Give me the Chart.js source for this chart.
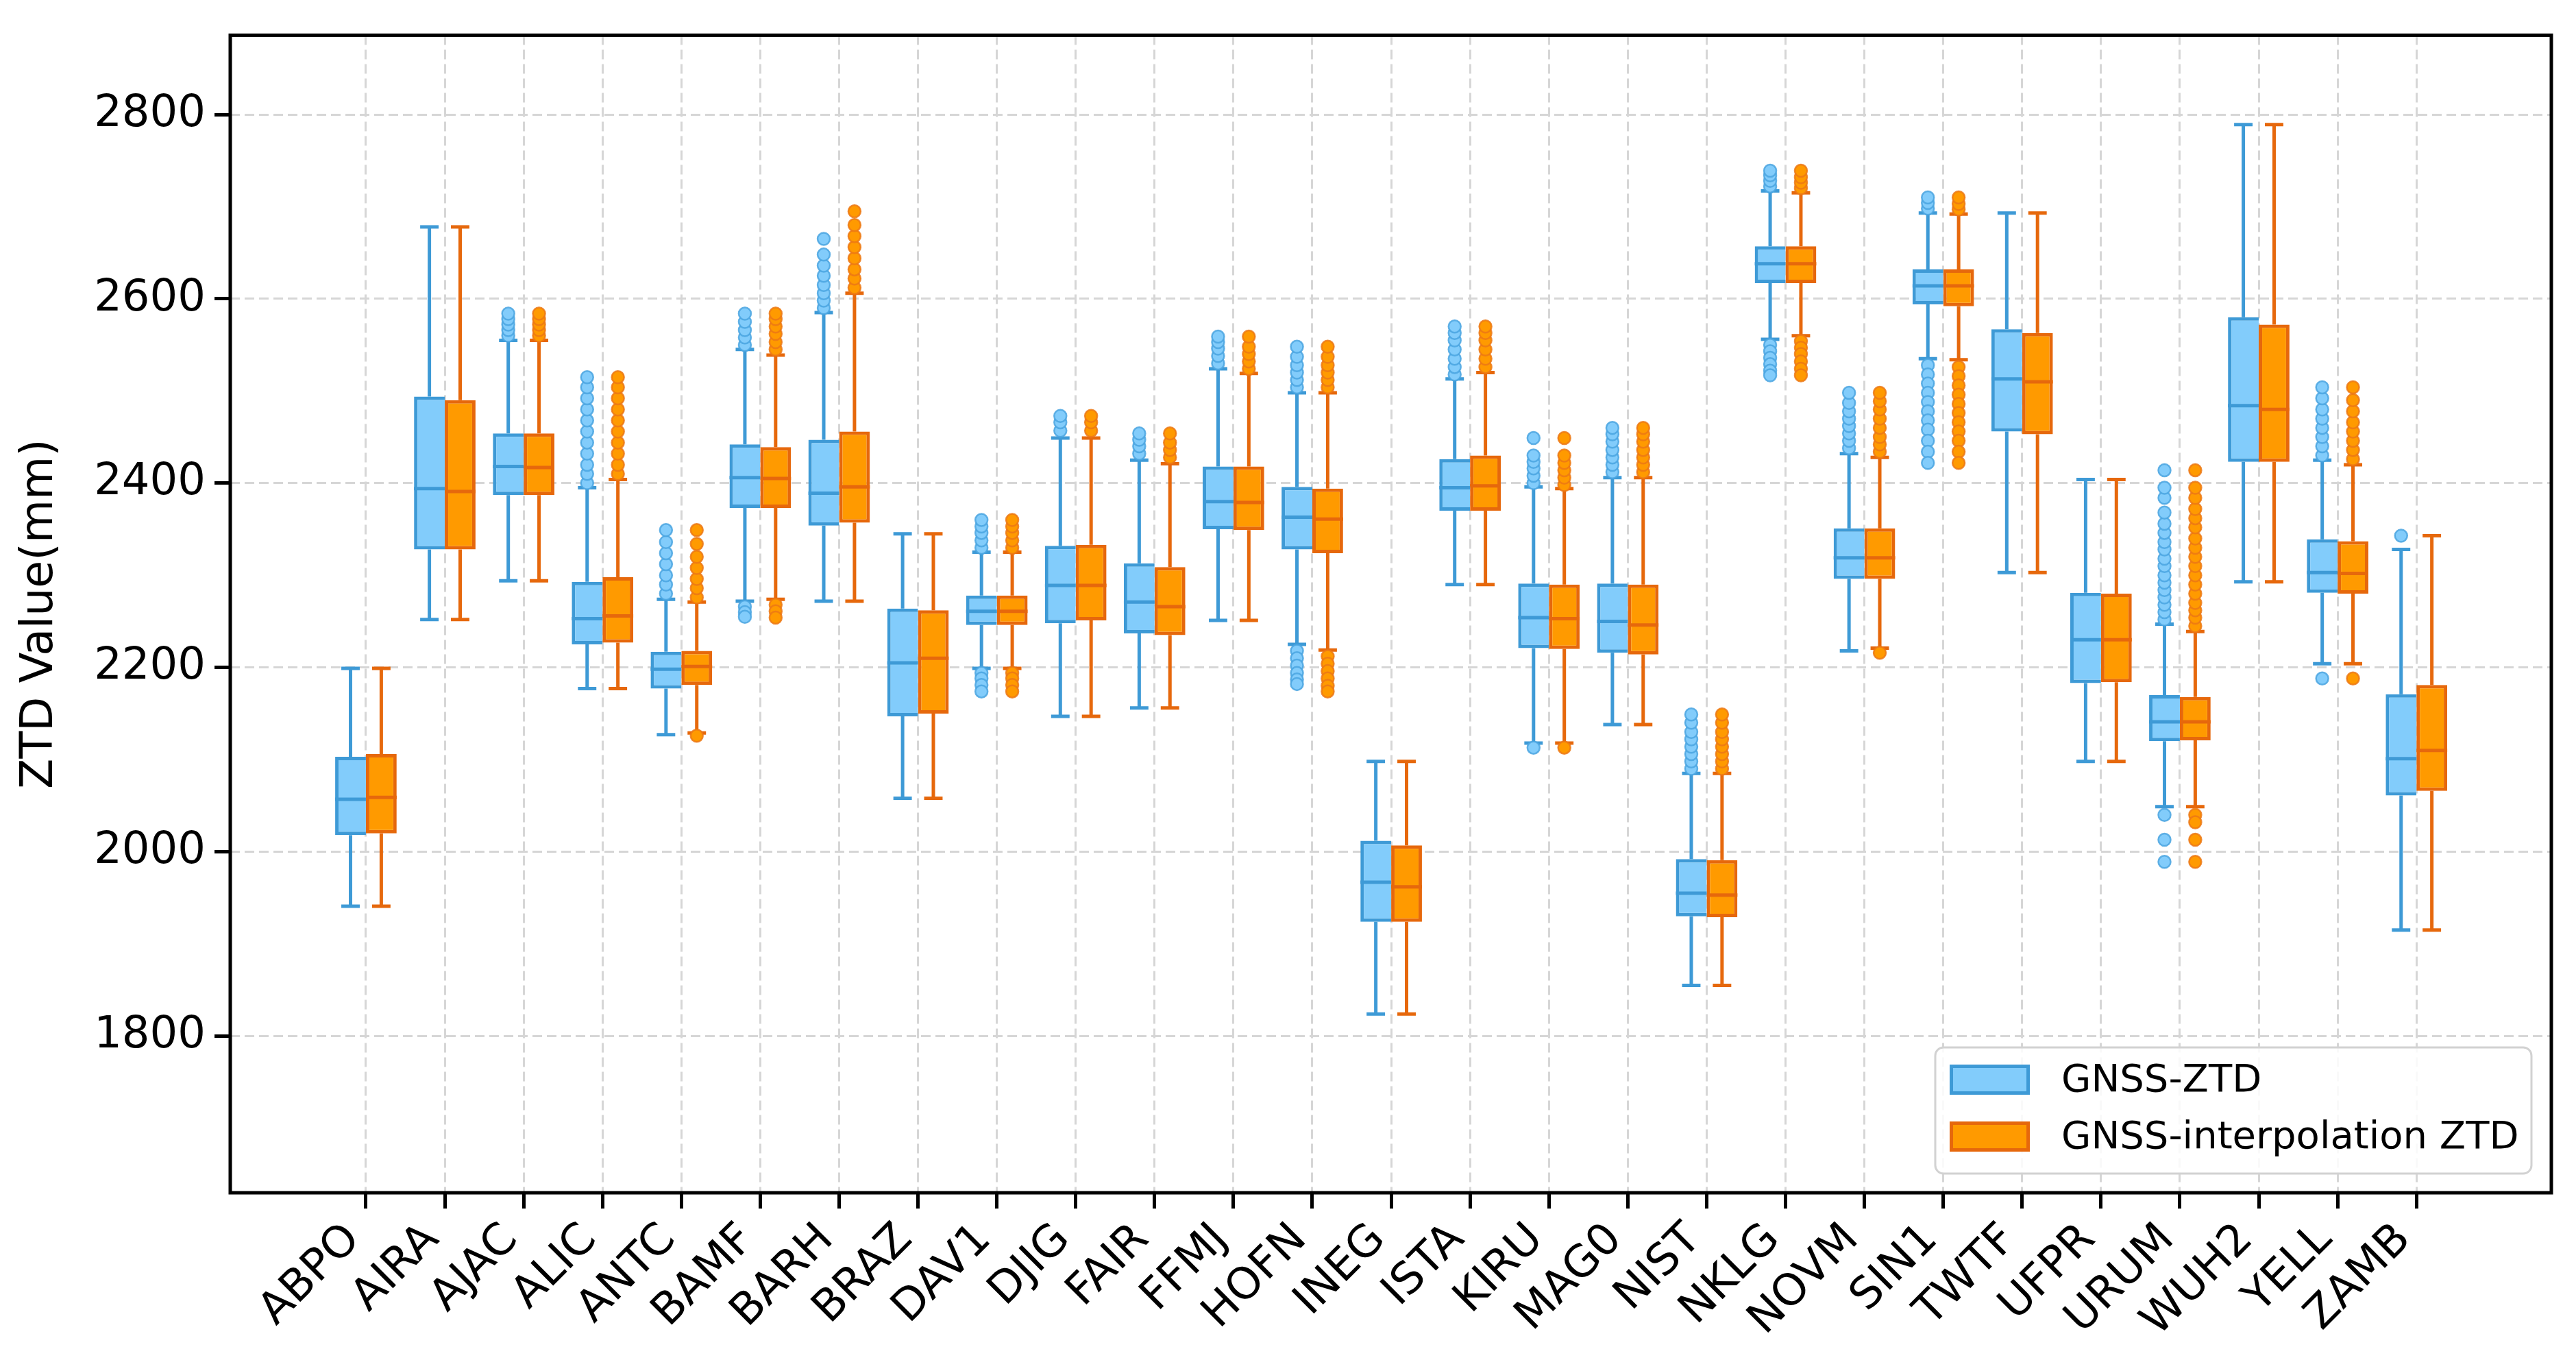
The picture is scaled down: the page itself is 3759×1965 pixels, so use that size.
<!DOCTYPE html>
<html>
<head>
<meta charset="utf-8">
<script src="https://cdn.jsdelivr.net/npm/chart.js@4.4.1/dist/chart.umd.min.js"></script>
<style>
  html, body { margin: 0; padding: 0; background: #fff; }
  #wrap { width: 3759px; height: 1965px; }
</style>
</head>
<body>
<div id="wrap"><canvas id="ztdChart" width="3759" height="1965"></canvas></div>
<script>
const stations = ["ABPO", "AIRA", "AJAC", "ALIC", "ANTC", "BAMF", "BARH", "BRAZ", "DAV1", "DJIG", "FAIR", "FFMJ", "HOFN", "INEG",
  "ISTA", "KIRU", "MAG0", "NIST", "NKLG", "NOVM", "SIN1", "TWTF", "UFPR", "URUM", "WUH2", "YELL", "ZAMB"];

// GNSS-ZTD box statistics (mm)
const gnssLow  = [1941, 2252, 2294, 2177, 2127, 2272, 2272, 2058, 2199, 2147, 2156, 2251, 2225, 1824, 2290, 2118, 2138, 1855, 2556, 2218, 2535, 2303, 2098, 2049, 2293, 2204, 1915];
const gnssQ1   = [2018, 2328, 2387, 2225, 2177, 2373, 2354, 2147, 2246, 2248, 2237, 2350, 2328, 1924, 2370, 2221, 2216, 1930, 2617, 2296, 2594, 2456, 2183, 2120, 2423, 2281, 2061];
const gnssMed  = [2057, 2394, 2418, 2253, 2198, 2406, 2389, 2205, 2261, 2289, 2271, 2380, 2363, 1967, 2395, 2254, 2250, 1955, 2638, 2319, 2614, 2513, 2230, 2141, 2484, 2303, 2101];
const gnssQ3   = [2103, 2494, 2454, 2293, 2217, 2442, 2447, 2264, 2278, 2332, 2313, 2418, 2396, 2012, 2426, 2291, 2291, 1992, 2657, 2351, 2632, 2567, 2281, 2170, 2580, 2339, 2171];
const gnssHigh = [2199, 2678, 2555, 2395, 2274, 2545, 2585, 2345, 2325, 2449, 2425, 2524, 2498, 2098, 2513, 2396, 2406, 2085, 2717, 2432, 2693, 2693, 2404, 2247, 2789, 2425, 2328];

// GNSS-interpolation ZTD box statistics (mm)
const interpLow  = [1941, 2252, 2294, 2177, 2129, 2274, 2272, 2058, 2199, 2147, 2156, 2251, 2219, 1824, 2290, 2118, 2138, 1855, 2560, 2221, 2534, 2303, 2098, 2049, 2293, 2204, 1915];
const interpQ1   = [2020, 2328, 2387, 2227, 2181, 2373, 2357, 2150, 2246, 2251, 2235, 2349, 2324, 1924, 2370, 2220, 2214, 1929, 2617, 2296, 2592, 2453, 2184, 2121, 2423, 2280, 2066];
const interpMed  = [2059, 2391, 2417, 2256, 2201, 2405, 2396, 2210, 2261, 2289, 2266, 2379, 2361, 1962, 2397, 2253, 2246, 1953, 2638, 2319, 2614, 2510, 2230, 2141, 2480, 2302, 2110];
const interpQ3   = [2106, 2490, 2454, 2298, 2218, 2439, 2456, 2262, 2278, 2333, 2309, 2418, 2394, 2007, 2430, 2290, 2290, 1991, 2657, 2351, 2632, 2563, 2280, 2168, 2572, 2337, 2181];
const interpHigh = [2199, 2678, 2555, 2404, 2271, 2539, 2606, 2345, 2325, 2449, 2421, 2519, 2498, 2098, 2520, 2394, 2406, 2085, 2715, 2428, 2692, 2693, 2404, 2239, 2789, 2420, 2343];

// outliers per station
const gnssOutliers = [
  [], [], [2560, 2566, 2572, 2578, 2584],
  [2400, 2410, 2420, 2432, 2444, 2456, 2468, 2480, 2492, 2504, 2515],
  [2280, 2290, 2300, 2312, 2324, 2336, 2349],
  [2550, 2558, 2566, 2575, 2584, 2266, 2260, 2255],
  [2590, 2598, 2606, 2615, 2625, 2636, 2648, 2665],
  [],
  [2330, 2338, 2346, 2353, 2360, 2194, 2188, 2181, 2174],
  [2457, 2466, 2473],
  [2432, 2440, 2447, 2454],
  [2530, 2538, 2546, 2553, 2559],
  [2504, 2512, 2520, 2528, 2537, 2548, 2218, 2210, 2202, 2194, 2187, 2182],
  [],
  [2518, 2526, 2535, 2545, 2555, 2563, 2570],
  [2400, 2408, 2416, 2423, 2430, 2449, 2113],
  [2412, 2420, 2428, 2436, 2445, 2453, 2460],
  [2090, 2098, 2106, 2114, 2122, 2130, 2140, 2149],
  [2722, 2728, 2734, 2739, 2550, 2543, 2536, 2529, 2522, 2517],
  [2438, 2446, 2454, 2462, 2470, 2478, 2487, 2498],
  [2698, 2704, 2710, 2528, 2518, 2508, 2498, 2488, 2478, 2468, 2458, 2446, 2434, 2422],
  [], [],
  [2252, 2260, 2268, 2276, 2284, 2292, 2300, 2310, 2318, 2328, 2336, 2346, 2356, 2368, 2384, 2395, 2414, 2040, 2013, 1989],
  [],
  [2430, 2440, 2450, 2460, 2470, 2480, 2492, 2504, 2188],
  [2343]
];
const interpOutliers = [
  [], [], [2560, 2566, 2572, 2578, 2584],
  [2410, 2420, 2432, 2444, 2456, 2468, 2480, 2492, 2504, 2515],
  [2276, 2286, 2296, 2308, 2320, 2334, 2349, 2126],
  [2545, 2553, 2562, 2570, 2578, 2584, 2268, 2261, 2254],
  [2612, 2622, 2632, 2644, 2656, 2668, 2680, 2695],
  [],
  [2330, 2338, 2346, 2353, 2360, 2194, 2188, 2181, 2174],
  [2457, 2466, 2473],
  [2428, 2436, 2444, 2454],
  [2524, 2532, 2540, 2548, 2559],
  [2504, 2512, 2520, 2528, 2537, 2548, 2212, 2204, 2196, 2188, 2180, 2174],
  [],
  [2526, 2535, 2545, 2555, 2563, 2570],
  [2398, 2406, 2414, 2422, 2430, 2449, 2113],
  [2412, 2420, 2428, 2436, 2445, 2453, 2460],
  [2090, 2098, 2106, 2114, 2122, 2130, 2140, 2149],
  [2720, 2726, 2732, 2739, 2554, 2547, 2540, 2532, 2524, 2517],
  [2434, 2442, 2450, 2460, 2470, 2480, 2489, 2498, 2216],
  [2697, 2703, 2710, 2526, 2516, 2506, 2496, 2486, 2476, 2466, 2456, 2446, 2434, 2422],
  [], [],
  [2245, 2254, 2262, 2270, 2280, 2290, 2300, 2310, 2320, 2330, 2340, 2352, 2362, 2372, 2384, 2395, 2414, 2040, 2032, 2013, 1989],
  [],
  [2426, 2436, 2446, 2456, 2466, 2478, 2490, 2504, 2188],
  []
];

const yTicks = [1800, 2000, 2200, 2400, 2600, 2800];

const FONT = "'DejaVu Sans', sans-serif";
const groupWidth = 0.78; // share of one station slot taken by the two boxes

const series = [
  { label: "GNSS-ZTD", low: gnssLow, q1: gnssQ1, med: gnssMed, q3: gnssQ3, high: gnssHigh, out: gnssOutliers,
    fill: "#82CCFB", edge: "#3E9AD6", dot: "rgba(74,165,224,0.85)", side: -1 },
  { label: "GNSS-interpolation ZTD", low: interpLow, q1: interpQ1, med: interpMed, q3: interpQ3, high: interpHigh, out: interpOutliers,
    fill: "#FF9A00", edge: "#E6680C", dot: "rgba(236,120,20,0.85)", side: 1 }
];

// whiskers, caps and medians drawn around the floating bars
const boxParts = {
  id: "boxParts",
  beforeDatasetDraw(chart, args) {
    const s = series[args.index];
    if (!s || args.meta.type !== "bar") return;
    const { ctx } = chart;
    const y = chart.scales.y;
    ctx.save();
    ctx.strokeStyle = s.edge;
    ctx.lineWidth = 5;
    args.meta.data.forEach((bar, i) => {
      const { x, width } = bar.getProps(["x", "width"], true);
      const cap = width * 0.3;
      ctx.beginPath();
      ctx.moveTo(x, y.getPixelForValue(s.q3[i]));
      ctx.lineTo(x, y.getPixelForValue(s.high[i]));
      ctx.moveTo(x, y.getPixelForValue(s.q1[i]));
      ctx.lineTo(x, y.getPixelForValue(s.low[i]));
      ctx.moveTo(x - cap, y.getPixelForValue(s.high[i]));
      ctx.lineTo(x + cap, y.getPixelForValue(s.high[i]));
      ctx.moveTo(x - cap, y.getPixelForValue(s.low[i]));
      ctx.lineTo(x + cap, y.getPixelForValue(s.low[i]));
      ctx.stroke();
    });
    ctx.restore();
  },
  afterDatasetDraw(chart, args) {
    const s = series[args.index];
    if (!s || args.meta.type !== "bar") return;
    const { ctx } = chart;
    const y = chart.scales.y;
    ctx.save();
    ctx.strokeStyle = s.edge;
    ctx.lineWidth = 5;
    args.meta.data.forEach((bar, i) => {
      const { x, width } = bar.getProps(["x", "width"], true);
      const py = y.getPixelForValue(s.med[i]);
      ctx.beginPath();
      ctx.moveTo(x - width / 2, py);
      ctx.lineTo(x + width / 2, py);
      ctx.stroke();
    });
    ctx.restore();
  },
  afterDatasetsDraw(chart) {
    const { ctx, chartArea: a } = chart;
    ctx.save();
    ctx.strokeStyle = "#000";
    ctx.lineWidth = 5;
    ctx.strokeRect(a.left, a.top, a.right - a.left, a.bottom - a.top);
    ctx.restore();
  }
};

// matplotlib-like legend box in the lower right corner
const boxLegend = {
  id: "boxLegend",
  afterDraw(chart) {
    const { ctx, chartArea: a } = chart;
    const w = 870, h = 184;
    const left = a.right - 29 - w, top = a.bottom - 28 - h;
    ctx.save();
    ctx.beginPath();
    ctx.roundRect(left, top, w, h, 12);
    ctx.fillStyle = "rgba(255,255,255,0.85)";
    ctx.fill();
    ctx.strokeStyle = "#d2d2d2";
    ctx.lineWidth = 3;
    ctx.stroke();
    ctx.font = "56px " + FONT;
    ctx.textBaseline = "middle";
    series.forEach((s, k) => {
      const cy = top + 47 + k * 83;
      ctx.fillStyle = s.fill;
      ctx.fillRect(left + 21, cy - 22, 117, 44);
      ctx.strokeStyle = s.edge;
      ctx.lineWidth = 5;
      ctx.strokeRect(left + 23.5, cy - 19.5, 112, 39);
      ctx.fillStyle = "#000";
      ctx.fillText(s.label, left + 184, cy + 2);
    });
    ctx.restore();
  }
};

const datasets = [];
series.forEach((s, k) => {
  datasets.push({
    type: "bar",
    label: s.label,
    data: s.q1.map((q, i) => ({ x: i, y: [q, s.q3[i]] })),
    backgroundColor: s.fill,
    borderColor: s.edge,
    borderWidth: 5,
    borderSkipped: k === 0 ? "right" : false,
    categoryPercentage: groupWidth,
    barPercentage: 1,
    order: 2
  });
});
series.forEach((s) => {
  datasets.push({
    type: "scatter",
    label: s.label + " outliers",
    data: s.out.flatMap((vals, i) => vals.map(v => ({ x: i + s.side * groupWidth / 4, y: v }))),
    pointStyle: "circle",
    pointRadius: 9,
    pointBorderWidth: 2.5,
    pointBackgroundColor: s.fill,
    pointBorderColor: s.dot,
    order: 1
  });
});

const gridStyle = {
  offset: false,
  color: "#d6d6d6",
  lineWidth: 3,
  drawTicks: true,
  tickLength: 23,
  tickWidth: 5,
  tickColor: "#000"
};

new Chart(document.getElementById("ztdChart").getContext("2d"), {
  type: "bar",
  data: { datasets },
  options: {
    responsive: false,
    devicePixelRatio: 1,
    animation: false,
    layout: { padding: { left: 0, right: 36, top: 40, bottom: 0 } },
    scales: {
      x: {
        type: "linear",
        offset: false,
        min: -1.72,
        max: 27.71,
        afterBuildTicks: (scale) => { scale.ticks = stations.map((_, i) => ({ value: i })); },
        afterFit: (scale) => { scale.height = 225; },
        grid: gridStyle,
        border: { display: false, dash: [14, 7] },
        ticks: {
          autoSkip: false,
          minRotation: 45,
          maxRotation: 45,
          padding: 8,
          labelOffset: -18,
          color: "#000",
          font: { family: FONT, size: 64 },
          callback: (v) => stations[v]
        }
      },
      y: {
        min: 1630,
        max: 2886,
        afterBuildTicks: (scale) => { scale.ticks = yTicks.map(v => ({ value: v })); },
        afterFit: (scale) => { scale.width = 336; },
        grid: gridStyle,
        border: { display: false, dash: [14, 7] },
        ticks: {
          padding: 13,
          color: "#000",
          font: { family: FONT, size: 64 },
          callback: (v) => String(v)
        },
        title: {
          display: true,
          text: "ZTD Value(mm)",
          color: "#000",
          font: { family: FONT, size: 65 },
          padding: { top: 20, bottom: 0 }
        }
      }
    },
    plugins: {
      legend: { display: false },
      tooltip: { enabled: false }
    }
  },
  plugins: [boxParts, boxLegend]
});
</script>
</body>
</html>
